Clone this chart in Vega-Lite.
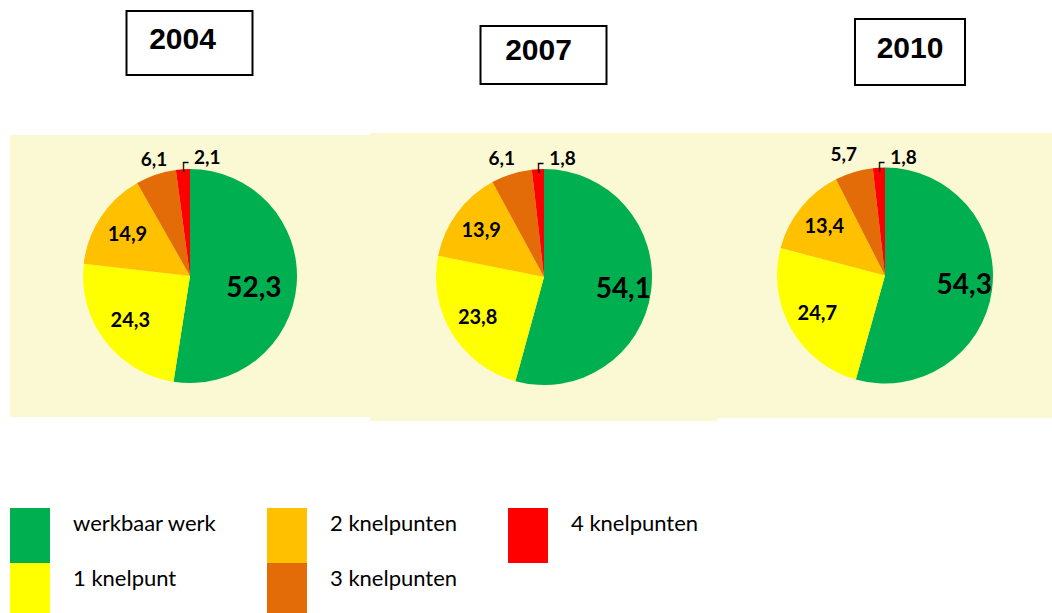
{
  "$schema": "https://vega.github.io/schema/vega-lite/v6.json",
  "padding": {"left": 10, "top": 10, "right": 0, "bottom": 0},
  "background": "white",
  "datasets": {
    "pies": [
      {"year": "2004", "cat": "werkbaar werk", "k": 0, "value": 52.3},
      {"year": "2004", "cat": "1 knelpunt", "k": 1, "value": 24.3},
      {"year": "2004", "cat": "2 knelpunten", "k": 2, "value": 14.9},
      {"year": "2004", "cat": "3 knelpunten", "k": 3, "value": 6.1},
      {"year": "2004", "cat": "4 knelpunten", "k": 4, "value": 2.1},
      {"year": "2007", "cat": "werkbaar werk", "k": 0, "value": 54.1},
      {"year": "2007", "cat": "1 knelpunt", "k": 1, "value": 23.8},
      {"year": "2007", "cat": "2 knelpunten", "k": 2, "value": 13.9},
      {"year": "2007", "cat": "3 knelpunten", "k": 3, "value": 6.1},
      {"year": "2007", "cat": "4 knelpunten", "k": 4, "value": 1.8},
      {"year": "2010", "cat": "werkbaar werk", "k": 0, "value": 54.3},
      {"year": "2010", "cat": "1 knelpunt", "k": 1, "value": 24.7},
      {"year": "2010", "cat": "2 knelpunten", "k": 2, "value": 13.4},
      {"year": "2010", "cat": "3 knelpunten", "k": 3, "value": 5.7},
      {"year": "2010", "cat": "4 knelpunten", "k": 4, "value": 1.8}
    ]
  },
  "hconcat": [
    {
      "vconcat": [
        {
          "width": 126, "height": 64,
          "view": {"fill": "white", "stroke": "black", "strokeWidth": 2},
          "data": {"values": [{"t": "2004"}]},
          "mark": {"type": "text", "font": "Liberation Sans", "fontWeight": "bold", "fontSize": 30, "dx": -7, "dy": -3, "color": "black"},
          "encoding": {"text": {"field": "t", "type": "nominal"}}
        },
        {"width": 1, "height": 59, "data": {"values": []}, "mark": "point"},
        {
          "width": 360, "height": 282,
          "view": {"fill": "#FBF9D4", "stroke": null},
          "data": {"name": "pies"},
          "transform": [{"filter": "datum.year === '2004'"}],
          "encoding": {
            "theta": {"field": "value", "type": "quantitative", "stack": true},
            "order": {"field": "k", "type": "quantitative"}
          },
          "layer": [
            {"mark": {"type": "arc", "outerRadius": 107}, "encoding": {"color": {"field": "cat", "type": "nominal",
              "scale": {"domain": ["werkbaar werk", "2 knelpunten", "4 knelpunten", "1 knelpunt", "3 knelpunten"], "range": ["#00B050", "#FFC000", "#FF0000", "#FFFF00", "#E36C09"]}}}},
            {"mark": {"type": "text", "radius": 64, "dy": 8, "fontSize": 28, "fontWeight": "bold", "font": "Lato", "color": "black"},
             "encoding": {"text": {"condition": {"test": "datum.k === 0", "field": "value", "type": "quantitative", "format": ".1f"}, "value": ""}}},
            {"mark": {"type": "text", "radius": 75, "fontSize": 20, "fontWeight": "bold", "font": "Lato", "color": "black"},
             "encoding": {"text": {"condition": {"test": "datum.k === 1 || datum.k === 2", "field": "value", "type": "quantitative", "format": ".1f"}, "value": ""}}},
            {"mark": {"type": "text", "radius": 122, "dx": 3, "fontSize": 19, "fontWeight": "bold", "font": "Lato", "color": "black"},
             "encoding": {"text": {"condition": {"test": "datum.k === 3", "field": "value", "type": "quantitative", "format": ".1f"}, "value": ""}}},
            {"mark": {"type": "text", "radius": 120, "dx": 12, "dy": 2, "align": "left", "fontSize": 19, "fontWeight": "bold", "font": "Lato", "color": "black"},
             "encoding": {"text": {"condition": {"test": "datum.k === 4", "field": "value", "type": "quantitative", "format": ".1f"}, "value": ""}}},
            {"mark": {"type": "text", "radius": 113, "dx": 1, "fontSize": 16, "font": "DejaVu Sans Mono", "color": "black"},
             "encoding": {"text": {"condition": {"test": "datum.k === 4", "value": "┌"}, "value": ""}}}
          ]
        }
      ],
      "spacing": 0,
      "center": true
    },
    {
      "vconcat": [
        {"width": 1, "height": 14, "data": {"values": []}, "mark": "point"},
        {
          "width": 126, "height": 58,
          "view": {"fill": "white", "stroke": "black", "strokeWidth": 2},
          "data": {"values": [{"t": "2007"}]},
          "mark": {"type": "text", "font": "Liberation Sans", "fontWeight": "bold", "fontSize": 30, "dx": -5, "dy": -4, "color": "black"},
          "encoding": {"text": {"field": "t", "type": "nominal"}}
        },
        {"width": 1, "height": 48, "data": {"values": []}, "mark": "point"},
        {
          "width": 348, "height": 288,
          "view": {"fill": "#FBF9D4", "stroke": null},
          "data": {"name": "pies"},
          "transform": [{"filter": "datum.year === '2007'"}],
          "encoding": {
            "theta": {"field": "value", "type": "quantitative", "stack": true},
            "order": {"field": "k", "type": "quantitative"}
          },
          "layer": [
            {"mark": {"type": "arc", "outerRadius": 108}, "encoding": {"color": {"field": "cat", "type": "nominal",
              "scale": {"domain": ["werkbaar werk", "2 knelpunten", "4 knelpunten", "1 knelpunt", "3 knelpunten"], "range": ["#00B050", "#FFC000", "#FF0000", "#FFFF00", "#E36C09"]}}}},
            {"mark": {"type": "text", "radius": 80, "dy": 2, "fontSize": 28, "fontWeight": "bold", "font": "Lato", "color": "black"},
             "encoding": {"text": {"condition": {"test": "datum.k === 0", "field": "value", "type": "quantitative", "format": ".1f"}, "value": ""}}},
            {"mark": {"type": "text", "radius": 78, "fontSize": 20, "fontWeight": "bold", "font": "Lato", "color": "black"},
             "encoding": {"text": {"condition": {"test": "datum.k === 1 || datum.k === 2", "field": "value", "type": "quantitative", "format": ".1f"}, "value": ""}}},
            {"mark": {"type": "text", "radius": 124, "dx": -5, "fontSize": 19, "fontWeight": "bold", "font": "Lato", "color": "black"},
             "encoding": {"text": {"condition": {"test": "datum.k === 3", "field": "value", "type": "quantitative", "format": ".1f"}, "value": ""}}},
            {"mark": {"type": "text", "radius": 120, "dx": 12, "dy": 2, "align": "left", "fontSize": 19, "fontWeight": "bold", "font": "Lato", "color": "black"},
             "encoding": {"text": {"condition": {"test": "datum.k === 4", "field": "value", "type": "quantitative", "format": ".1f"}, "value": ""}}},
            {"mark": {"type": "text", "radius": 113, "dx": 1, "fontSize": 16, "font": "DejaVu Sans Mono", "color": "black"},
             "encoding": {"text": {"condition": {"test": "datum.k === 4", "value": "┌"}, "value": ""}}}
          ]
        }
      ],
      "spacing": 0,
      "center": true
    },
    {
      "vconcat": [
        {"width": 1, "height": 7, "data": {"values": []}, "mark": "point"},
        {
          "hconcat": [
            {"width": 50, "height": 1, "data": {"values": []}, "mark": "point"},
            {
              "width": 110, "height": 66,
              "view": {"fill": "white", "stroke": "black", "strokeWidth": 2},
              "data": {"values": [{"t": "2010"}]},
              "mark": {"type": "text", "font": "Liberation Sans", "fontWeight": "bold", "fontSize": 30, "dx": 0, "dy": -3, "color": "black"},
              "encoding": {"text": {"field": "t", "type": "nominal"}}
            }
          ],
          "spacing": 0
        },
        {"width": 1, "height": 47, "data": {"values": []}, "mark": "point"},
        {
          "width": 334, "height": 285,
          "view": {"fill": "#FBF9D4", "stroke": null},
          "data": {"name": "pies"},
          "transform": [{"filter": "datum.year === '2010'"}],
          "encoding": {
            "theta": {"field": "value", "type": "quantitative", "stack": true},
            "order": {"field": "k", "type": "quantitative"}
          },
          "layer": [
            {"mark": {"type": "arc", "outerRadius": 108}, "encoding": {"color": {"field": "cat", "type": "nominal",
              "scale": {"domain": ["werkbaar werk", "2 knelpunten", "4 knelpunten", "1 knelpunt", "3 knelpunten"], "range": ["#00B050", "#FFC000", "#FF0000", "#FFFF00", "#E36C09"]}}}},
            {"mark": {"type": "text", "radius": 80, "fontSize": 28, "fontWeight": "bold", "font": "Lato", "color": "black"},
             "encoding": {"text": {"condition": {"test": "datum.k === 0", "field": "value", "type": "quantitative", "format": ".1f"}, "value": ""}}},
            {"mark": {"type": "text", "radius": 78, "fontSize": 20, "fontWeight": "bold", "font": "Lato", "color": "black"},
             "encoding": {"text": {"condition": {"test": "datum.k === 1 || datum.k === 2", "field": "value", "type": "quantitative", "format": ".1f"}, "value": ""}}},
            {"mark": {"type": "text", "radius": 126, "dx": -5, "fontSize": 19, "fontWeight": "bold", "font": "Lato", "color": "black"},
             "encoding": {"text": {"condition": {"test": "datum.k === 3", "field": "value", "type": "quantitative", "format": ".1f"}, "value": ""}}},
            {"mark": {"type": "text", "radius": 120, "dx": 12, "dy": 2, "align": "left", "fontSize": 19, "fontWeight": "bold", "font": "Lato", "color": "black"},
             "encoding": {"text": {"condition": {"test": "datum.k === 4", "field": "value", "type": "quantitative", "format": ".1f"}, "value": ""}}},
            {"mark": {"type": "text", "radius": 113, "dx": 1, "fontSize": 16, "font": "DejaVu Sans Mono", "color": "black"},
             "encoding": {"text": {"condition": {"test": "datum.k === 4", "value": "┌"}, "value": ""}}}
          ]
        }
      ],
      "spacing": 0,
      "center": true
    }
  ],
  "spacing": 0,
  "resolve": {"scale": {"theta": "independent"}},
  "config": {
    "locale": {"number": {"decimal": ",", "thousands": ".", "grouping": [3], "currency": ["", " €"]}},
    "view": {"stroke": null},
    "legend": {
      "orient": "bottom",
      "direction": "horizontal",
      "columns": 3,
      "title": null,
      "offset": 87,
      "padding": 0,
      "symbolType": "M-1,-1H0.455V1H-1Z",
      "symbolSize": 3025,
      "symbolStrokeWidth": 0,
      "symbolOpacity": 1,
      "labelFont": "Lato",
      "labelFontSize": 22,
      "labelColor": "black",
      "labelOffset": 8,
      "labelBaseline": "bottom",
      "labelLimit": 400,
      "rowPadding": 0,
      "columnPadding": 50
    }
  }
}
